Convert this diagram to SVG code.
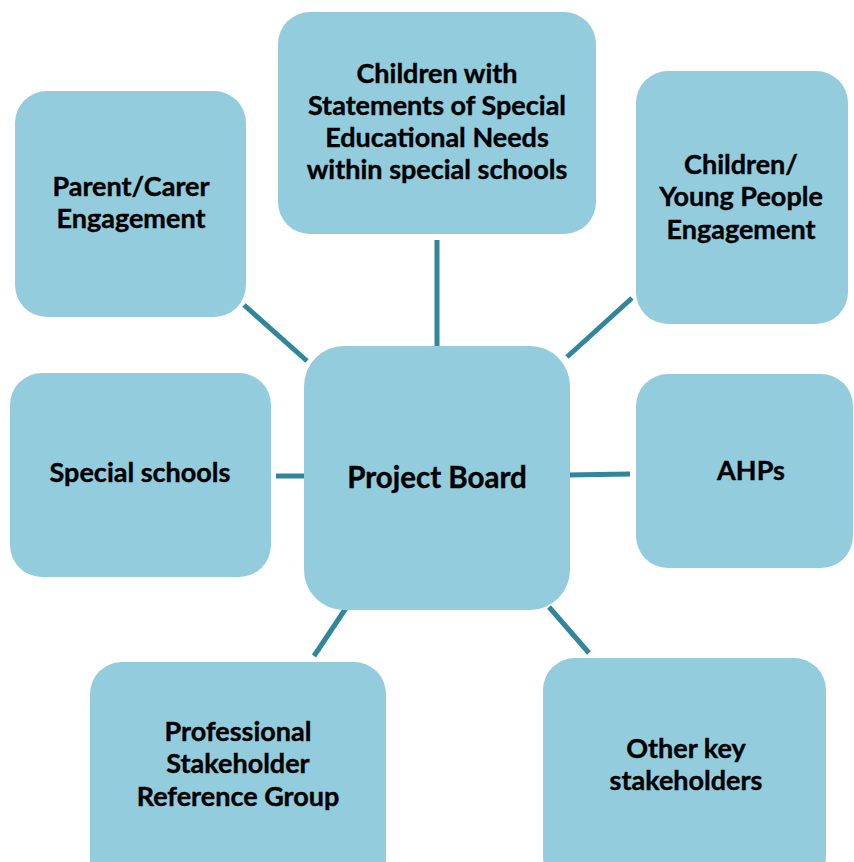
<svg xmlns="http://www.w3.org/2000/svg" width="854" height="862" viewBox="0 0 854 862">
<style>
.box{fill:#93CDDD;}
.t{font-family:Lato,"Open Sans",sans-serif;font-weight:bold;font-size:27px;fill:#000;text-anchor:middle;stroke:#000;stroke-width:0.4;}
.big{font-size:29.5px;}
.c{stroke:#31859C;stroke-width:5;fill:none;}
</style>
<rect width="854" height="862" fill="#fff"/>
<g id="connectors">
<line class="c" x1="437" y1="240" x2="437" y2="347"/>
<line class="c" x1="244" y1="305" x2="307" y2="361"/>
<line class="c" x1="632" y1="298" x2="567" y2="357"/>
<line class="c" x1="276" y1="476" x2="306" y2="476"/>
<line class="c" x1="567" y1="475" x2="630" y2="474"/>
<line class="c" x1="346" y1="608" x2="314" y2="656"/>
<line class="c" x1="549" y1="607" x2="589" y2="653"/>
</g>
<g id="n-top"><rect class="box" x="278" y="12" width="318" height="222" rx="32"/>
<text class="t" x="437" y="83">Children with</text>
<text class="t" x="437" y="115">Statements of Special</text>
<text class="t" x="437" y="147">Educational Needs</text>
<text class="t" x="437" y="179">within special schools</text></g>
<g id="n-parent"><rect class="box" x="15" y="91" width="231" height="226" rx="32"/>
<text class="t" x="131" y="196">Parent/Carer</text>
<text class="t" x="131" y="228">Engagement</text></g>
<g id="n-cyp"><rect class="box" x="636" y="71" width="212" height="253" rx="32"/>
<text class="t" x="741" y="174">Children/</text>
<text class="t" x="741" y="206">Young People</text>
<text class="t" x="741" y="239">Engagement</text></g>
<g id="n-special"><rect class="box" x="10" y="373" width="261" height="204" rx="32"/>
<text class="t" x="140" y="482">Special schools</text></g>
<g id="n-board"><rect class="box" x="304" y="346" width="266" height="264" rx="40"/>
<text class="t big" x="437" y="488">Project Board</text></g>
<g id="n-ahps"><rect class="box" x="636" y="374" width="217" height="194" rx="32"/>
<text class="t" x="751" y="480">AHPs</text></g>
<g id="n-prof"><rect class="box" x="90" y="662" width="296" height="230" rx="32"/>
<text class="t" x="238" y="741">Professional</text>
<text class="t" x="238" y="773">Stakeholder</text>
<text class="t" x="238" y="806">Reference Group</text></g>
<g id="n-other"><rect class="box" x="543" y="658" width="283" height="230" rx="32"/>
<text class="t" x="686" y="758">Other key</text>
<text class="t" x="686" y="790">stakeholders</text></g>
</svg>
